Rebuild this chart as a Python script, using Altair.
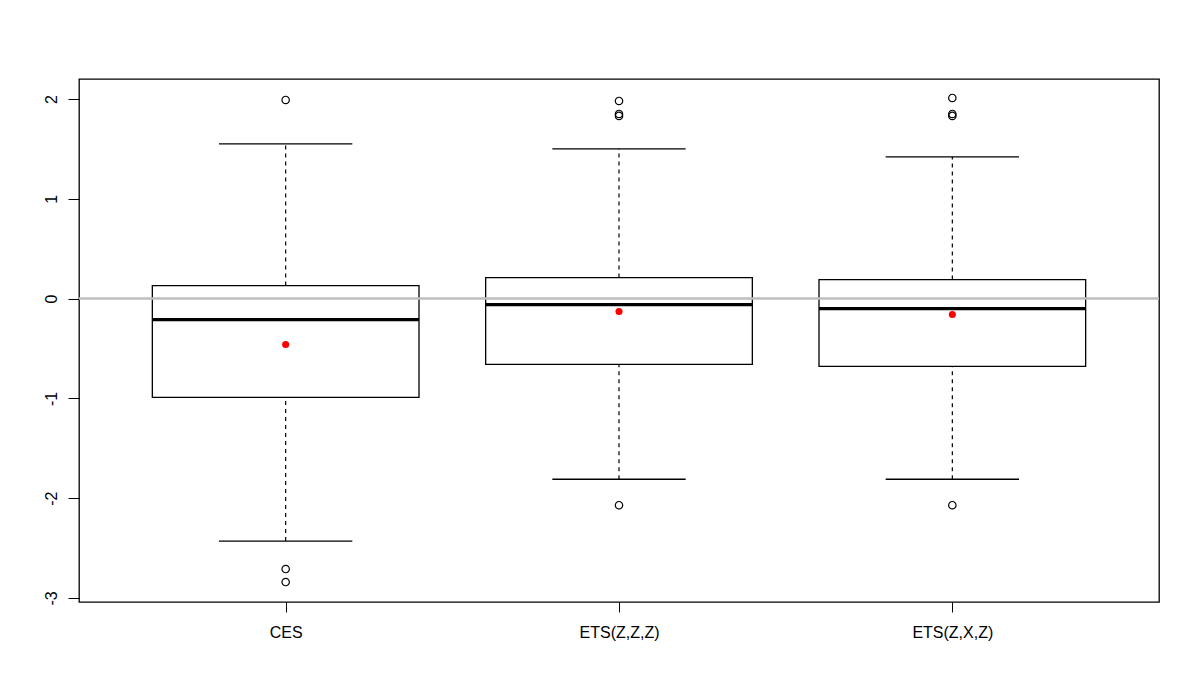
import altair as alt
import pandas as pd

categories = ["CES", "ETS(Z,Z,Z)", "ETS(Z,X,Z)"]
lower_whisker = [-2.43, -1.81, -1.81]
q1 = [-0.99, -0.66, -0.68]
median = [-0.21, -0.06, -0.10]
q3 = [0.13, 0.21, 0.19]
upper_whisker = [1.55, 1.50, 1.42]
means = [-0.46, -0.13, -0.16]

outlier_cat = ["CES", "CES", "CES",
               "ETS(Z,Z,Z)", "ETS(Z,Z,Z)", "ETS(Z,Z,Z)", "ETS(Z,Z,Z)",
               "ETS(Z,X,Z)", "ETS(Z,X,Z)", "ETS(Z,X,Z)", "ETS(Z,X,Z)"]
outlier_val = [1.99, -2.71, -2.84,
               1.98, 1.85, 1.83, -2.07,
               2.01, 1.85, 1.83, -2.07]

y_ticks = [-3, -2, -1, 0, 1, 2]

pos_of = {c: i + 1 for i, c in enumerate(categories)}

stats = pd.DataFrame({
    "cat": categories,
    "pos": [pos_of[c] for c in categories],
    "lo": lower_whisker,
    "q1": q1,
    "med": median,
    "q3": q3,
    "hi": upper_whisker,
    "mean": means,
})
outs = pd.DataFrame({
    "cat": outlier_cat,
    "pos": [pos_of[c] for c in outlier_cat],
    "val": outlier_val,
})

label_expr = "[" + ",".join("'" + c + "'" for c in categories) + "][datum.value - 1]"

xscale = alt.Scale(domain=[0.38, 3.62], nice=False, zero=False)
yscale = alt.Scale(domain=[-3.04, 2.2], nice=False, zero=False)

x_axis = alt.Axis(values=[1, 2, 3], labelExpr=label_expr, title=None, grid=False,
                  domain=False, ticks=True, tickSize=10, tickColor="black",
                  labelColor="black", labelFontSize=16, labelFont="Liberation Sans",
                  labelPadding=12, labelFlush=False)
y_axis = alt.Axis(values=y_ticks, labelExpr="'' + round(datum.value)", title=None, grid=False,
                  domain=False, tickSize=11, tickColor="black", labelColor="black",
                  labelFontSize=16, labelFont="Liberation Sans", labelAngle=270,
                  labelPadding=9, labelFlush=False)

base = alt.Chart(stats).transform_calculate(
    bl="datum.pos - 0.4", br="datum.pos + 0.4",
    cl="datum.pos - 0.2", cr="datum.pos + 0.2",
)

whisk_up = base.mark_rule(color="black", strokeWidth=1.2, strokeDash=[4, 4]).encode(
    x=alt.X("pos:Q", scale=xscale, axis=x_axis),
    y=alt.Y("q3:Q", scale=yscale, axis=y_axis),
    y2="hi:Q",
)
whisk_lo = base.mark_rule(color="black", strokeWidth=1.2, strokeDash=[4, 4]).encode(
    x="pos:Q", y="lo:Q", y2="q1:Q",
)
cap_up = base.mark_rule(color="black", strokeWidth=1.3).encode(
    x="cl:Q", x2="cr:Q", y="hi:Q",
)
cap_lo = base.mark_rule(color="black", strokeWidth=1.3).encode(
    x="cl:Q", x2="cr:Q", y="lo:Q",
)
box = base.mark_rect(fillOpacity=0, stroke="black", strokeWidth=1.3).encode(
    x="bl:Q", x2="br:Q", y="q1:Q", y2="q3:Q",
)
med = base.mark_rule(color="black", strokeWidth=3.2, strokeCap="butt").encode(
    x="bl:Q", x2="br:Q", y="med:Q",
)
zero = alt.Chart(pd.DataFrame({"z": [0]})).mark_rule(color="#bebebe", strokeWidth=2.5).encode(
    y="z:Q",
)
out_pts = alt.Chart(outs).mark_point(shape="circle", filled=False, color="black",
                                     size=55, strokeWidth=1.2, opacity=1).encode(
    x="pos:Q", y="val:Q",
)
mean_pts = base.mark_circle(color="red", size=50, opacity=1).encode(
    x="pos:Q", y="mean:Q",
)

chart = alt.layer(whisk_up, whisk_lo, cap_up, cap_lo, box, med, zero, out_pts, mean_pts).properties(
    width=1080, height=523,
    autosize=alt.AutoSizeParams(type="none"),
    padding={"left": 71, "top": 71, "right": 30, "bottom": 80},
).configure(background="white").configure_view(stroke="black", strokeWidth=1.3)

chart.save("out.html", embed_options={"renderer": "svg", "actions": False})
